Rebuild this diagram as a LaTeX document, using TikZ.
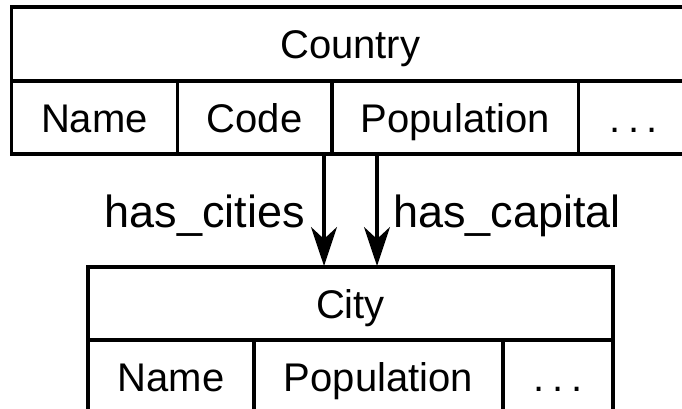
\documentclass[tikz,border=0pt]{standalone}
\usepackage{fontspec}
\setmainfont{Liberation Sans}
\usetikzlibrary{arrows.meta}
\begin{document}
\begin{tikzpicture}[x=1pt,y=-1pt,
  cell/.style={draw=black, line width=3.4pt, inner sep=0pt, outer sep=0pt,
    anchor=north west, text height=29pt, text depth=0pt,
    font=\fontsize{40}{48}\selectfont},
  relabel/.style={inner sep=0pt, font=\fontsize{45}{54}\selectfont},
  relarrow/.style={line width=3.2pt,
    -{Stealth[length=39pt,width=26pt,inset=12pt]}}]
\useasboundingbox (0,0) rectangle (682,409);
\clip (0,0) rectangle (682,409);

% Country table
\node[cell, minimum width=677.5pt, minimum height=74pt] (country) at (11.5,7) {Country};
\node[cell, minimum width=165.8pt, minimum height=73pt] (cname) at (11.5,81) {Name};
\node[cell, minimum width=154.7pt, minimum height=73pt] (ccode) at (177.3,81) {Code};
\node[cell, minimum width=246.5pt, minimum height=73pt] (cpop) at (332,81) {Population};
\node[cell, minimum width=110.5pt, minimum height=73pt] (cmore) at (578.5,81) {.\kern7.5pt.\kern7.5pt.};

% City table
\node[cell, minimum width=525pt, minimum height=73pt] (city) at (88,267) {City};
\node[cell, minimum width=166pt, minimum height=73pt] (yname) at (88,340) {Name};
\node[cell, minimum width=249pt, minimum height=73pt] (ypop) at (254,340) {Population};
\node[cell, minimum width=110pt, minimum height=73pt] (ymore) at (503,340) {.\kern7.5pt.\kern7.5pt.};

% Relations
\coordinate (citiesFrom) at (324,154);
\coordinate (citiesTo) at (324,266);
\coordinate (capitalFrom) at (377,154);
\coordinate (capitalTo) at (377,266);
\draw[relarrow] (citiesFrom) -- (citiesTo);
\draw[relarrow] (capitalFrom) -- (capitalTo);
\node[relabel, anchor=base east] (lcities) at (305,227) {has\_cities};
\node[relabel, anchor=base west] (lcapital) at (393,227) {has\_capital};
\end{tikzpicture}
\end{document}
